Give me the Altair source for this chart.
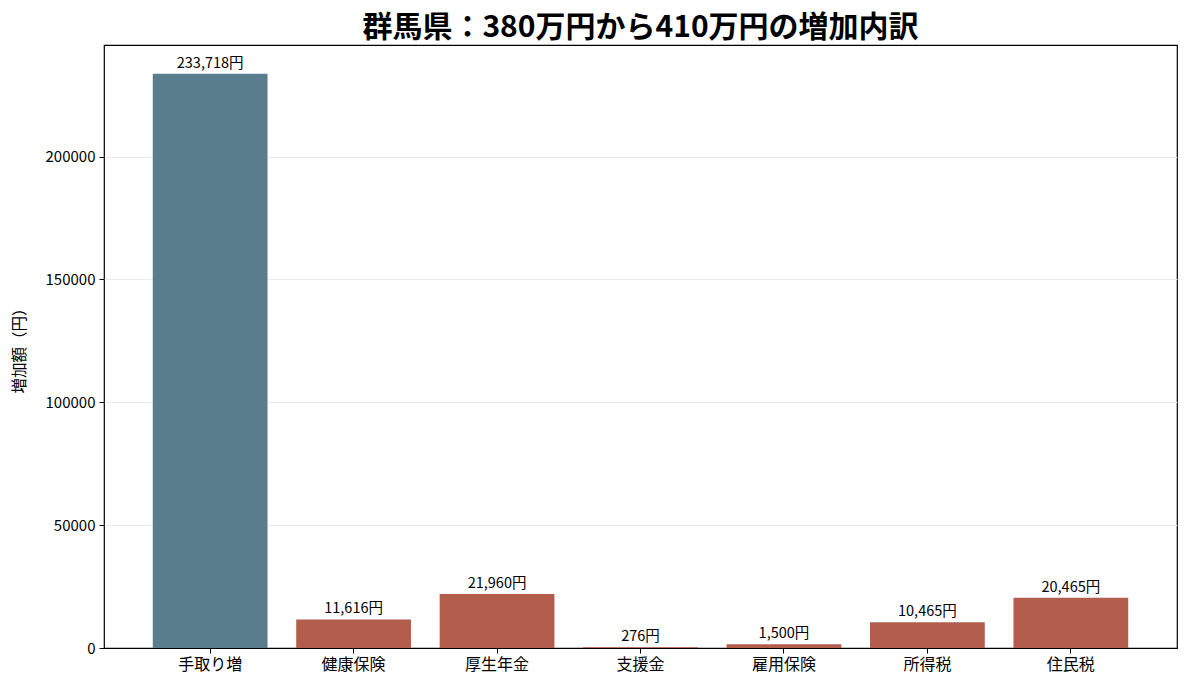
import altair as alt
import pandas as pd

categories = ["手取り増", "健康保険", "厚生年金", "支援金", "雇用保険", "所得税", "住民税"]
values = [233718, 11616, 21960, 276, 1500, 10465, 20465]
kinds = ["gain", "cost", "cost", "cost", "cost", "cost", "cost"]

df = pd.DataFrame({"cat": categories, "val": values, "kind": kinds})
df["label"] = [f"{v:,}円" for v in values]

FONT = "Noto Sans CJK JP"
ymax = 233718 * 1.05

x = alt.X("cat:N", sort=categories, title=None,
          scale=alt.Scale(paddingInner=0.2, paddingOuter=0.34),
          axis=alt.Axis(labelAngle=0, labelFontSize=16, labelColor="black", labelFont=FONT,
                        tickColor="black", tickSize=5, domain=False, labelPadding=3))
y = alt.Y("val:Q", title="増加額（円）",
          scale=alt.Scale(domain=[0, ymax], nice=False, zero=True),
          axis=alt.Axis(values=[0, 50000, 100000, 150000, 200000], format="d",
                        labelFontSize=15, labelColor="black", labelFont=FONT,
                        titleFontSize=15.5, titleFont=FONT, titleFontWeight="normal",
                        titleColor="black", titlePadding=18,
                        tickColor="black", tickSize=5, domain=False,
                        gridColor=alt.condition("datum.value === 0", alt.value("black"), alt.value("#ebebeb")),
                        gridWidth=alt.condition("datum.value === 0", alt.value(1.2), alt.value(1)),
                        labelPadding=4))

bars = alt.Chart(df).mark_bar().encode(
    x=x, y=y,
    color=alt.Color("kind:N", scale=alt.Scale(domain=["gain", "cost"], range=["#597d8d", "#b35e4d"]), legend=None),
)
text = alt.Chart(df).mark_text(baseline="bottom", dy=-3, fontSize=14.5, font=FONT, color="black").encode(
    x=alt.X("cat:N", sort=categories), y="val:Q", text="label:N"
)

chart = (bars + text).properties(
    width=1073, height=603,
    background="white",
    title=alt.TitleParams("群馬県：380万円から410万円の増加内訳", fontSize=30, font=FONT,
                          fontWeight="bold", color="black", anchor="middle", offset=2),
    autosize=alt.AutoSizeParams(type="none"),
    padding={"left": 96, "top": 37, "right": 3, "bottom": 32},
).configure_view(stroke="black", strokeWidth=1.2)

chart.save("out.html", embed_options={"renderer": "svg", "actions": False})
